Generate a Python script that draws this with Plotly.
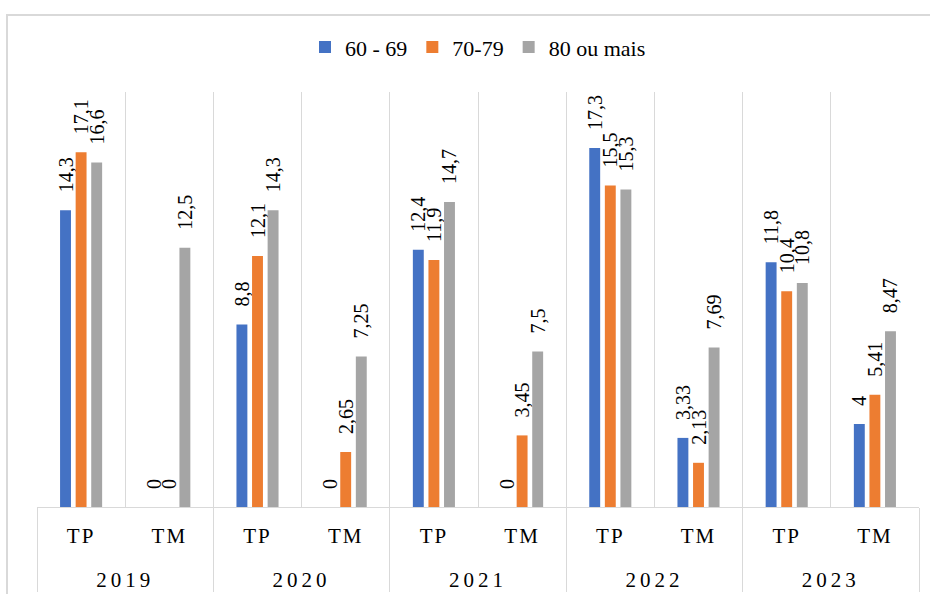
import plotly.graph_objects as go

years = ["2019", "2019", "2020", "2020", "2021", "2021", "2022", "2022", "2023", "2023"]
types = ["TP", "TM", "TP", "TM", "TP", "TM", "TP", "TM", "TP", "TM"]

series_names = ["60 - 69", "70-79", "80 ou mais"]
v_60_69 = [14.3, 0, 8.8, 0, 12.4, 0, 17.3, 3.33, 11.8, 4]
v_70_79 = [17.1, 0, 12.1, 2.65, 11.9, 3.45, 15.5, 2.13, 10.4, 5.41]
v_80 = [16.6, 12.5, 14.3, 7.25, 14.7, 7.5, 15.3, 7.69, 10.8, 8.47]
colors = ["#4472C4", "#ED7D31", "#A5A5A5"]

FONT = "Liberation Serif"
NB = "\u00a0"


def fmt(v):
    return NB * 3 + ("%g" % v).replace(".", ",")


year_labels = ["<br>" + y for y in years]

fig = go.Figure()
for name, vals, col in zip(series_names, [v_60_69, v_70_79, v_80], colors):
    fig.add_trace(go.Bar(
        x=[year_labels, types], y=vals, name=name,
        marker=dict(color=col, line=dict(width=0)),
        text=[fmt(v) for v in vals],
        textposition="outside", textangle=-90,
        textfont=dict(family=FONT, size=20, color="#000000"),
        cliponaxis=False, constraintext="none",
    ))

fig.update_layout(
    width=930, height=594,
    margin=dict(l=37, r=11, t=92, b=87),
    paper_bgcolor="white", plot_bgcolor="white",
    barmode="group", bargap=0.47, bargroupgap=0.3,
    font=dict(family=FONT, size=20, color="#000000"),
    showlegend=True,
    legend=dict(orientation="h", x=0.5, xanchor="center", y=1.108, yanchor="middle",
                font=dict(family=FONT, size=22, color="#000000"),
                itemwidth=30, tracegroupgap=0),
    xaxis=dict(type="multicategory", showgrid=True, gridcolor="#D9D9D9", gridwidth=1,
               tickson="boundaries", showline=True, linecolor="#D9D9D9", linewidth=1,
               showdividers=True, dividercolor="#D9D9D9", dividerwidth=1,
               ticks="", ticklabelstandoff=10, automargin=False,
               tickfont=dict(family=FONT, size=21, color="#000000")),
    yaxis=dict(range=[0, 20], visible=False, showgrid=False, zeroline=False),
    shapes=[dict(type="rect", xref="paper", yref="paper",
                 x0=(7 - 37) / 882, x1=(940 - 37) / 882,
                 y0=-0.3, y1=(507 - 15) / 415,
                 line=dict(color="#D9D9D9", width=2), fillcolor="rgba(0,0,0,0)", layer="below")],
)

post = """
var st = document.createElement('style');
st.innerHTML = '.xtick2 text{letter-spacing:4px;} .xtick text{letter-spacing:2px;}';
document.head.appendChild(st);
"""
fig.write_html("out.html", post_script=post)
